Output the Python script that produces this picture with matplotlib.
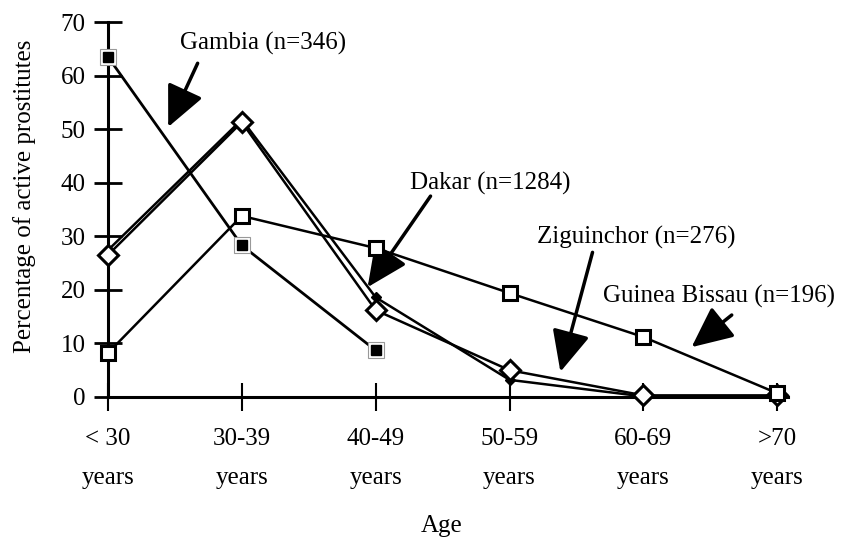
import matplotlib
matplotlib.use('Agg')
import matplotlib.pyplot as plt

plt.rcParams['font.family'] = ['Liberation Serif', 'DejaVu Serif']

# datos
grupos_edad = ['< 30\nyears', '30-39\nyears', '40-49\nyears', '50-59\nyears', '60-69\nyears', '>70\nyears']
gambia = [63.5, 28.3, 8.7]
dakar = [26.5, 51.3, 16.2, 5.0, 0.3, 0.3]
ziguinchor = [27.4, 51.8, 18.6, 3.2, 0.1, 0.1]
guinea_bissau = [8.2, 33.8, 27.8, 19.4, 11.2, 0.7]

x = list(range(len(grupos_edad)))
fs = 18

fig = plt.figure(figsize=(8.5, 5.45), dpi=100)
ax = fig.add_axes([0.127, 0.2716, 0.8, 0.688])

# lineas
ax.plot(x, ziguinchor, color='black', lw=1.8, marker='D', ms=5,
        mfc='black', mec='black', zorder=3, clip_on=False)
ax.plot(x, dakar, color='black', lw=1.8, marker='D', ms=10,
        mfc='white', mec='black', mew=2.2, zorder=4, clip_on=False)
ax.plot(x, guinea_bissau, color='black', lw=1.8, marker='s', ms=10,
        mfc='white', mec='black', mew=2.2, zorder=4, clip_on=False)
ax.plot(x[:len(gambia)], gambia, color='black', lw=2, zorder=5, clip_on=False)
ax.plot(x[:len(gambia)], gambia, ls='none', marker='s', ms=11,
        mfc='white', mec='#999999', mew=0.8, zorder=6, clip_on=False)
ax.plot(x[:len(gambia)], gambia, ls='none', marker='s', ms=7,
        mfc='black', mec='black', zorder=7, clip_on=False)

# etiquetas con flechas
flecha = dict(arrowstyle='-|>,head_length=1.4,head_width=0.65', lw=2.5,
              color='black', shrinkA=0, shrinkB=0, mutation_scale=18)
ax.annotate('', xy=(0.45, 50.4), xytext=(0.67, 62.3), arrowprops=flecha)
ax.annotate('', xy=(1.94, 20.5), xytext=(2.41, 37.5), arrowprops=flecha)
ax.annotate('', xy=(3.38, 4.7), xytext=(3.62, 27.0), arrowprops=flecha)
ax.annotate('', xy=(4.36, 9.3), xytext=(4.66, 15.3), arrowprops=flecha)

ax.text(0.538, 64.8, 'Gambia (n=346)', fontsize=fs, va='baseline', ha='left')
ax.text(2.257, 38.8, 'Dakar (n=1284)', fontsize=fs, va='baseline', ha='left')
ax.text(3.206, 28.7, 'Ziguinchor (n=276)', fontsize=fs, va='baseline', ha='left')
ax.text(3.70, 17.7, 'Guinea Bissau (n=196)', fontsize=fs, va='baseline', ha='left')

# ejes
ax.set_xlim(0, 5.08)
ax.set_ylim(0, 70)
ax.set_yticks(range(0, 71, 10))
ax.set_xticks(x)
ax.set_xticklabels(grupos_edad, fontsize=fs, linespacing=2.05)
ax.tick_params(axis='y', labelsize=fs, direction='inout', length=20, width=2, pad=6)
ax.tick_params(axis='x', direction='inout', length=20, width=1.5, pad=12)
for lado in ['top', 'right']:
    ax.spines[lado].set_visible(False)
for lado in ['left', 'bottom']:
    ax.spines[lado].set_linewidth(2.2)
ax.set_ylabel('Percentage of active prostitutes', fontsize=fs)
ax.yaxis.set_label_coords(-0.106, 0.536)
ax.set_xlabel('Age', fontsize=fs)
ax.xaxis.set_label_coords(0.49, -0.315)

plt.savefig('out.png', dpi=100)
